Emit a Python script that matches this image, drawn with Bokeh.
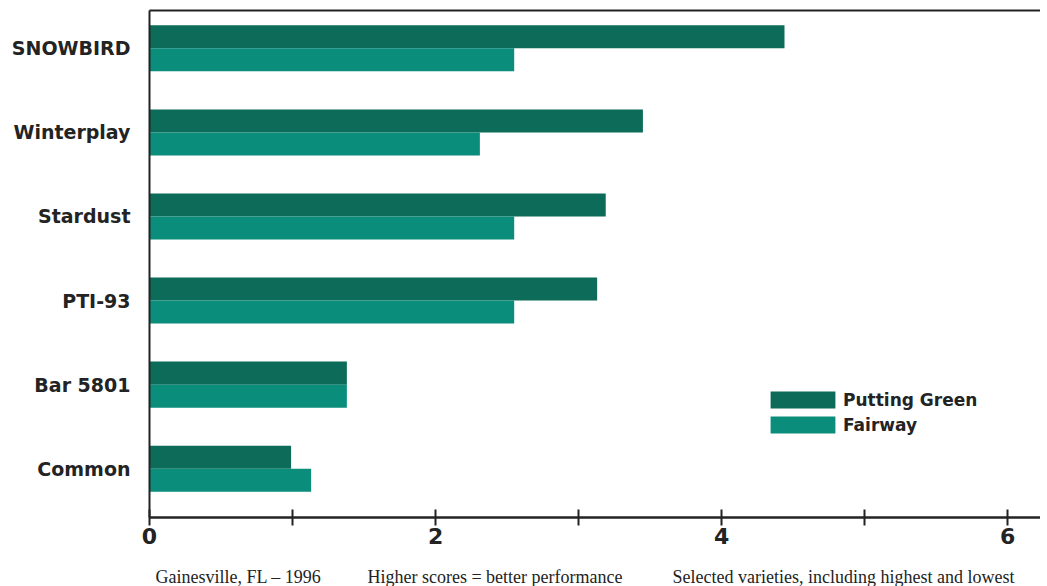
from bokeh.plotting import figure
from bokeh.layouts import column
from bokeh.models import Range1d, FixedTicker, LinearAxis, Label, Legend, LegendItem, ColumnDataSource
from bokeh.embed import file_html
from bokeh.resources import INLINE
from bokeh.transform import dodge

varieties = ["SNOWBIRD", "Winterplay", "Stardust", "PTI-93", "Bar 5801", "Common"]
putting_green = [4.44, 3.45, 3.19, 3.13, 1.38, 0.99]
fairway = [2.55, 2.31, 2.55, 2.55, 1.38, 1.13]
x_ticks = [0, 1, 2, 3, 4, 5, 6]
x_tick_labels = {0: "0", 1: "", 2: "2", 3: "", 4: "4", 5: "", 6: "6"}
series_names = ["Putting Green", "Fairway"]
footnotes = ["Gainesville, FL – 1996", "Higher scores = better performance",
             "Selected varieties, including highest and lowest"]

PG_COLOR = "#0c6b59"
FW_COLOR = "#0a8d7b"
TEXT = "#232323"
SANS = "DejaVu Sans"

W = 1040
pos = list(range(len(varieties) - 1, -1, -1))
src = ColumnDataSource(dict(pos=pos, pg=putting_green, fw=fairway, name=varieties))

p = figure(width=W, height=555, x_range=Range1d(0, 6.23), y_range=Range1d(-0.58, 5.45),
           output_backend="svg", toolbar_location=None,
           min_border_left=149, min_border_right=0, min_border_top=10, min_border_bottom=38)
p.outline_line_color = None
p.xgrid.visible = False
p.ygrid.visible = False

r1 = p.hbar(y=dodge("pos", 0.137), height=0.274, left=0, right="pg", source=src,
            fill_color=PG_COLOR, line_color=None)
r2 = p.hbar(y=dodge("pos", -0.137), height=0.274, left=0, right="fw", source=src,
            fill_color=FW_COLOR, line_color=None)

# x axis
xa = p.xaxis[0]
xa.ticker = FixedTicker(ticks=x_ticks)
xa.major_label_overrides = x_tick_labels
xa.minor_tick_line_color = None
xa.major_tick_in = 8
xa.major_tick_out = 8
xa.major_tick_line_width = 2
xa.major_tick_line_color = TEXT
xa.axis_line_width = 2.5
xa.axis_line_color = TEXT
xa.major_label_text_font = SANS
xa.major_label_text_font_style = "bold"
xa.major_label_text_font_size = "22px"
xa.major_label_text_color = TEXT
xa.major_label_standoff = 2

# y axis
ya = p.yaxis[0]
ya.ticker = FixedTicker(ticks=pos)
ya.major_label_overrides = {k: n for k, n in zip(pos, varieties)}
ya.major_tick_line_color = None
ya.minor_tick_line_color = None
ya.axis_line_width = 2
ya.axis_line_color = TEXT
ya.major_label_text_font = SANS
ya.major_label_text_font_style = "bold"
ya.major_label_text_font_size = "19px"
ya.major_label_text_color = TEXT
ya.major_label_standoff = 13

# top border as axis line
top = LinearAxis(ticker=FixedTicker(ticks=[]), axis_line_width=2, axis_line_color=TEXT,
                 major_tick_line_color=None, minor_tick_line_color=None,
                 major_label_text_font_size="0px", major_label_standoff=0)
p.add_layout(top, "above")

legend = Legend(items=[LegendItem(label=series_names[0], renderers=[r1]),
                       LegendItem(label=series_names[1], renderers=[r2])],
                location=(613, 82), glyph_width=81, glyph_height=21, label_height=21,
                spacing=4, padding=0, margin=0, border_line_color=None,
                background_fill_alpha=0, label_standoff=0,
                label_text_font=SANS, label_text_font_style="bold",
                label_text_font_size="17px", label_text_color=TEXT)
p.add_layout(legend)

# footnote strip
foot = figure(width=W, height=31, x_range=Range1d(0, 1), y_range=Range1d(0, 1),
              output_backend="svg", toolbar_location=None,
              min_border_left=0, min_border_right=0, min_border_top=0, min_border_bottom=0)
foot.axis.visible = False
foot.grid.visible = False
foot.outline_line_color = None
for txt, xs in zip(footnotes, [6, 218, 523]):
    foot.add_layout(Label(x=xs, y=10, x_units="screen", y_units="screen", text=txt,
                          text_font="Liberation Serif", text_font_size="18px",
                          text_baseline="middle", text_color=TEXT))

layout = column(p, foot, spacing=0)
open("out.html", "w").write(file_html(layout, INLINE))
